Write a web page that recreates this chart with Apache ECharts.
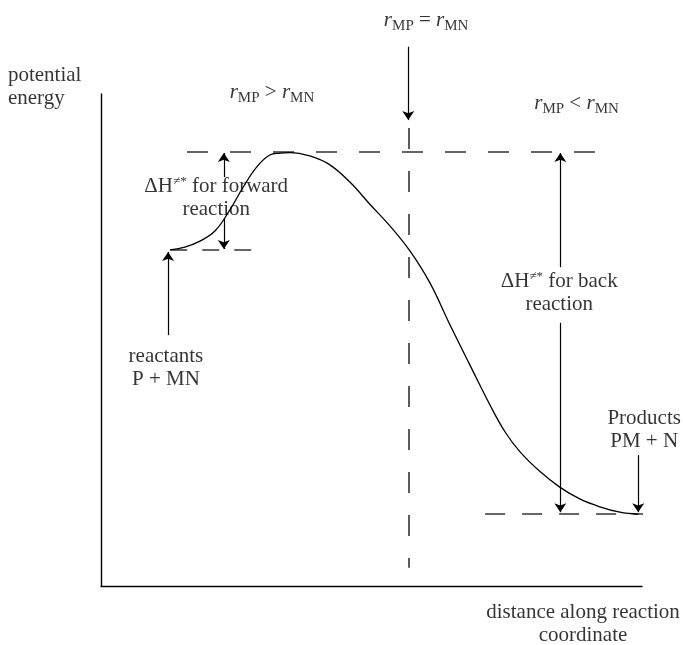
<!DOCTYPE html>
<html>
<head>
<meta charset="utf-8">
<script src="https://cdn.jsdelivr.net/npm/echarts@6/dist/echarts.min.js"></script>
<style>
  html, body { margin: 0; padding: 0; background: #fff; }
  #main { width: 683px; height: 645px; }
</style>
</head>
<body>
<div id="main"></div>
<script>
var chartDom = document.getElementById('main');
var myChart = echarts.init(chartDom);
var option;

const FONT = "'Liberation Serif', 'Times New Roman', serif";

// potential energy along the reaction coordinate (both axes 0..100)
const curveX = [12.8, 15.5, 18.3, 21.1, 23.8, 26.3, 28.8, 31.2, 33.1, 34.9, 38.6, 42.3, 46.0, 49.7, 53.4, 57.1, 60.8, 64.5, 68.2, 71.9, 74.7, 77.5, 81.2, 84.8, 88.5, 92.2, 95.9, 99.3];
const curveY = [68.3, 68.9, 70.1, 72.2, 76.4, 81.1, 85.2, 87.6, 88.0, 88.1, 87.4, 85.6, 82.1, 77.6, 73.2, 68.1, 61.6, 53.1, 44.9, 36.8, 31.3, 27.2, 23.2, 20.1, 17.7, 16.1, 15.0, 14.6];

// dashed guide lines: transition state level, reactant level, product level, rMP = rMN
const guideFrom = [[15.9, 88.2], [12.8, 68.3], [71.0, 14.6], [56.8, 93.1]];
const guideTo = [[91.3, 88.2], [27.9, 68.3], [100.2, 14.6], [56.8, 3.7]];
const guideDash = [[21, 22], [17, 15], [20, 17], [21, 22]];

// arrows (head at the "to" end)
const arrowFrom = [[56.8, 109.6], [22.7, 83.1], [22.7, 74.8], [12.4, 51.0], [84.9, 64.8], [84.9, 53.5], [99.3, 26.6]];
const arrowTo = [[56.8, 94.7], [22.7, 88.0], [22.7, 68.5], [12.4, 67.9], [84.9, 88.0], [84.9, 15.0], [99.3, 15.0]];

// annotations
const labelPos = [[-17.2, 101.5], [60.1, 114.7], [31.6, 100.0], [87.9, 97.8], [21.3, 78.8], [84.7, 59.5], [12.0, 44.4], [100.4, 31.7], [89.1, -7.8]];
const labelText = [
  'potential\nenergy',
  '{i|r}{s|MP}{t| = }{i|r}{s|MN}',
  '{i|r}{s|MP}{t| > }{i|r}{s|MN}',
  '{i|r}{s|MP}{t| < }{i|r}{s|MN}',
  '{n|ΔH}{sup|≠*}{n| for forward}\n{n|reaction}',
  '{n|ΔH}{sup|≠*}{n| for back}\n{n|reaction}',
  'reactants\nP + MN',
  'Products\nPM + N',
  'distance along reaction\ncoordinate'
];
const labelAlign = ['left', 'center', 'center', 'center', 'center', 'center', 'center', 'center', 'center'];

const rich = {
  i: { fontFamily: FONT, fontSize: 21, fontStyle: 'italic', lineHeight: 23, verticalAlign: 'top', color: '#000' },
  t: { fontFamily: FONT, fontSize: 21, lineHeight: 23, verticalAlign: 'top', color: '#000' },
  s: { fontFamily: FONT, fontSize: 15, lineHeight: 24, verticalAlign: 'bottom', color: '#000' },
  n: { fontFamily: FONT, fontSize: 21, lineHeight: 23, color: '#000' },
  sup: { fontFamily: FONT, fontSize: 13, lineHeight: 13, verticalAlign: 'top', color: '#000' }
};

option = {
  animation: false,
  backgroundColor: '#fff',
  grid: { left: 101, right: 41, top: 94, bottom: 59 },
  xAxis: {
    type: 'value', min: 0, max: 100,
    axisLine: { show: true, lineStyle: { color: '#000', width: 1.4 } },
    axisTick: { show: false }, axisLabel: { show: false }, splitLine: { show: false }
  },
  yAxis: {
    type: 'value', min: 0, max: 100,
    axisLine: { show: true, lineStyle: { color: '#000', width: 1.4 } },
    axisTick: { show: false }, axisLabel: { show: false }, splitLine: { show: false }
  },
  series: [
    {
      type: 'line',
      data: curveX.map((x, i) => [x, curveY[i]]),
      smooth: 0.4,
      showSymbol: false,
      clip: false,
      lineStyle: { color: '#000', width: 1.3 },
      z: 3
    },
    {
      type: 'lines',
      coordinateSystem: 'cartesian2d',
      clip: false,
      data: guideFrom.map((p, i) => ({
        coords: [p, guideTo[i]],
        lineStyle: { type: guideDash[i] }
      })),
      symbol: 'none',
      lineStyle: { color: '#333', width: 1.6, opacity: 1 },
      z: 2
    },
    {
      type: 'lines',
      coordinateSystem: 'cartesian2d',
      clip: false,
      data: arrowFrom.map((p, i) => ({ coords: [p, arrowTo[i]] })),
      symbol: ['none', 'arrow'],
      symbolSize: 9,
      lineStyle: { color: '#000', width: 1.2, opacity: 1 },
      z: 4
    },
    {
      type: 'scatter',
      clip: false,
      silent: true,
      symbolSize: 0,
      data: labelPos.map((p, i) => ({
        value: p,
        label: { formatter: labelText[i], align: labelAlign[i] }
      })),
      label: {
        show: true,
        position: 'inside',
        fontFamily: FONT,
        fontSize: 21,
        lineHeight: 23,
        color: '#000',
        rich: rich
      },
      z: 5
    }
  ]
};

option && myChart.setOption(option);
</script>
</body>
</html>
